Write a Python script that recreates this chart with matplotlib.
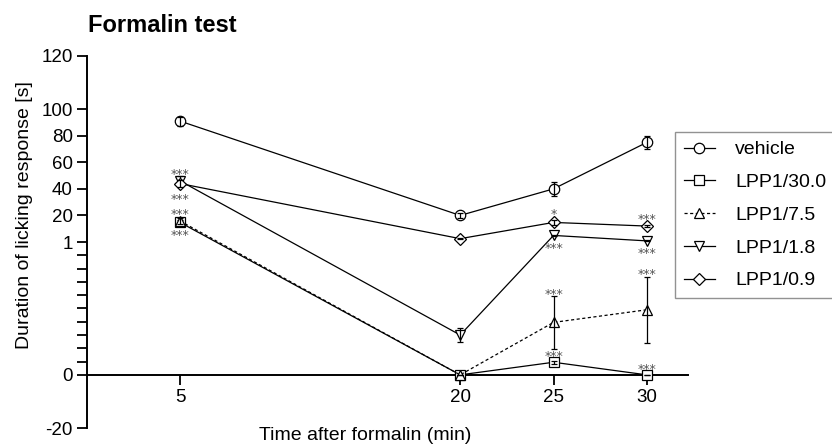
import numpy as np
import matplotlib
matplotlib.use("Agg")
import matplotlib.pyplot as plt

plt.rcParams['font.family'] = ['Liberation Sans', 'DejaVu Sans']

# time points (min)
times = [5, 20, 25, 30]

# series: name, mean, sem
names = ['vehicle', 'LPP1/30.0', 'LPP1/7.5', 'LPP1/1.8', 'LPP1/0.9']
vehicle = [91, 20, 40, 75]
vehicle_err = [3.4, 2, 5, 5]
lpp30 = [15, 0, 0.095, 0]
lpp30_err = [2, 0, 0.012, 0]
lpp75 = [16, 0, 0.395, 0.49]
lpp75_err = [2, 0, 0.2, 0.25]
lpp18 = [46, 0.30, 5.7, 1.8]
lpp18_err = [4, 0.05, 0.5, 0.3]
lpp09 = [44, 3.4, 15, 12.4]
lpp09_err = [2.5, 0.4, 1.5, 1.0]

# significance marks: series index, time index, text, side
stars = [
    (3, 0, '***', 'above'),
    (4, 0, '***', 'below'),
    (1, 0, '***', 'above'),
    (2, 0, '***', 'below'),
    (4, 2, '*', 'above'),
    (3, 2, '***', 'below'),
    (2, 2, '***', 'above'),
    (1, 2, '***', 'above'),
    (4, 3, '***', 'above'),
    (3, 3, '***', 'below'),
    (2, 3, '***', 'above'),
    (1, 3, '***', 'above'),
]
# gap (px) between end of error bar and centre of the stars
star_gap = [5, 9, 8.5, 8.5, 9, 8.5, 4.5, 8, 8.5, 9, 5.5, 9]

# segmented y axis (value -> position)
seg_vals = [-20, 0, 1, 20, 100, 120]
seg_pos = [-2, 0, 5, 6, 10, 12]

def fwd(v):
    return np.interp(v, seg_vals, seg_pos)

def inv(p):
    return np.interp(p, seg_pos, seg_vals)

fig = plt.figure(figsize=(8.32, 4.48), dpi=100)
ax = fig.add_axes([0.1042, 0.0446, 0.7227, 0.8304])
ax.set_yscale('function', functions=(fwd, inv))
ax.set_ylim(-20, 120)
ax.set_xlim(0, 32.2)

means = [vehicle, lpp30, lpp75, lpp18, lpp09]
errs = [vehicle_err, lpp30_err, lpp75_err, lpp18_err, lpp09_err]
markers = ['o', 's', '^', 'v', 'D']
msizes = [7.5, 7.5, 7.5, 7.5, 6.5]
styles = ['-', '-', (0, (2.5, 2)), '-', '-']

for i in range(len(names)):
    ax.plot(times, means[i], color='black', lw=0.9, ls=styles[i],
            marker=markers[i], ms=msizes[i], mfc='white', mec='black',
            mew=0.9, label=names[i], zorder=3 + i)
    ax.errorbar(times, means[i], yerr=errs[i], fmt='none', ecolor='black',
                elinewidth=0.9, capsize=2.3, capthick=0.9, zorder=3.5 + i)

# asterisk glyph centre sits ~7 px above the baseline at 9 pt
star_mid = 7.1
for (si, ti, txt, side), gap in zip(stars, star_gap):
    v = means[si][ti]
    e = errs[si][ti]
    if side == 'above':
        anchor = v + e
        off = gap - star_mid
    else:
        anchor = v - e
        off = -gap - star_mid
    ax.annotate(txt, (times[ti], anchor), xytext=(0, off),
                textcoords='offset pixels', ha='center', va='baseline',
                fontsize=9, color='#555555', family='DejaVu Sans',
                zorder=20)

# axes styling
ax.spines['top'].set_visible(False)
ax.spines['right'].set_visible(False)
ax.spines['bottom'].set_position(('data', 0))
ax.spines['left'].set_linewidth(1.4)
ax.spines['bottom'].set_linewidth(1.4)

ax.set_xticks(times)
ax.set_xticklabels([str(t) for t in times])
yticks = [-20, 0, 1, 20, 40, 60, 80, 100, 120]
ax.set_yticks(yticks)
ax.set_yticklabels([str(t) for t in yticks])
ax.set_yticks(np.arange(1, 10) / 10, minor=True)
ax.set_xticks([], minor=True)
ax.tick_params(axis='both', which='both', direction='out', length=7,
               width=1.3, labelsize=13.5, pad=3)

fig.text(88 / 832, 1 - 25 / 448, 'Formalin test', fontsize=17,
         fontweight='bold', ha='left', va='center')
fig.text(365 / 832, 1 - 435 / 448, 'Time after formalin (min)',
         fontsize=14, ha='center', va='center')
fig.text(25 / 832, 1 - 215 / 448, 'Duration of licking response [s]',
         fontsize=14, ha='center', va='center', rotation=90)

leg = ax.legend(loc='upper left', bbox_to_anchor=(675 / 832, 1 - 132 / 448),
                bbox_transform=fig.transFigure, borderaxespad=0,
                fontsize=14, frameon=True, fancybox=False,
                edgecolor='#777777', handlelength=1.6, handletextpad=1.05,
                labelspacing=0.78, borderpad=0.45)
leg.get_frame().set_linewidth(1.0)

fig.savefig('out.png', dpi=100)
